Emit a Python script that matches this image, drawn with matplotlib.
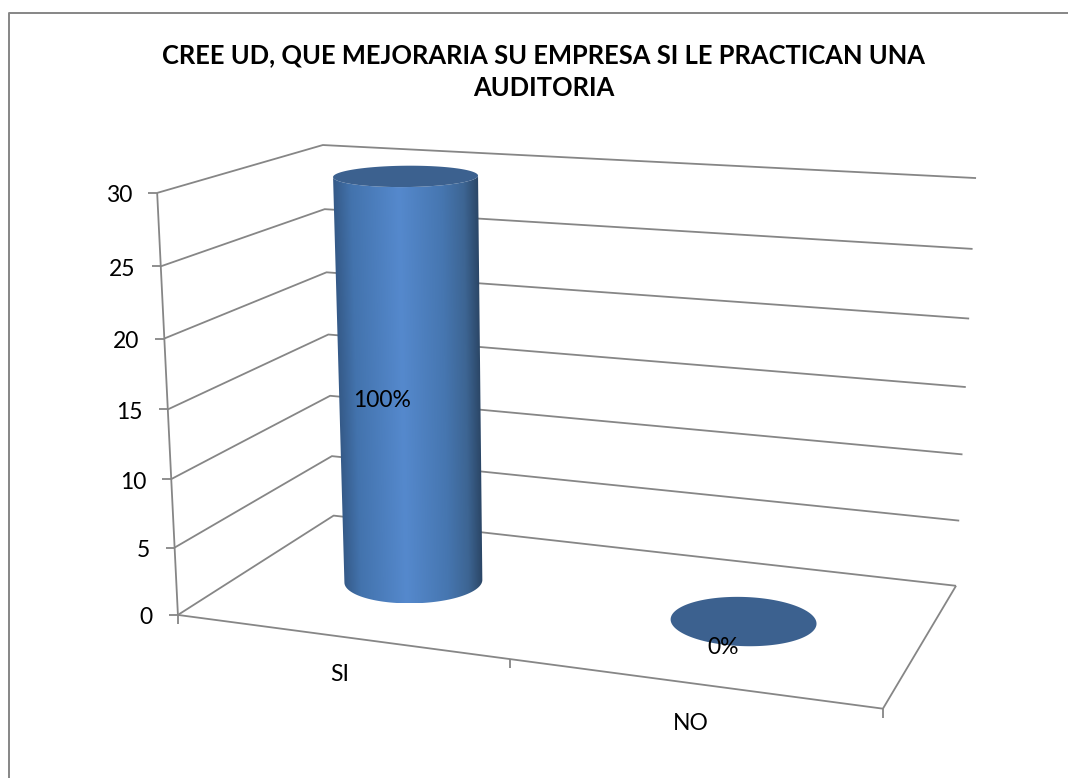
import numpy as np
import matplotlib
matplotlib.use("Agg")
import matplotlib.pyplot as plt
from matplotlib.patches import Polygon
from matplotlib.colors import LinearSegmentedColormap

# --- data ---
title_lines = ["CREE UD, QUE MEJORARIA SU EMPRESA SI LE PRACTICAN UNA", "AUDITORIA"]
categories = ["SI", "NO"]
values = [30, 0]
data_labels = ["100%", "0%"]
y_ticks = [0, 5, 10, 15, 20, 25, 30]

# --- style / layout ---
W, H = 1068, 778
LINE = "#868686"
LW = 1.3
TOP_COL = "#3c618f"
FONT = "Lato"
body_cmap = LinearSegmentedColormap.from_list(
    "cyl", [(0, "#355a88"), (0.12, "#4373ad"), (0.45, "#5589cd"),
            (0.75, "#4676b0"), (0.9, "#3d6593"), (1, "#2b4666")])
RU, RD = 0.202, 0.20
label_off = [(-28, 17), (-20, 27)]
cat_off = [38, 40]

# Camera fitted to plot-box corners: (u, value, depth) -> pixel
calib = [((0, 0, 0), (178, 615)), ((2, 0, 0), (883, 708.5)),
         ((0, 0, 1), (333.5, 515.5)), ((2, 0, 1), (956, 586)),
         ((0, 30, 0), (157, 193)), ((0, 30, 1), (323, 145)),
         ((2, 30, 1), (976, 178))]
A = []
for (u, v, d), (px, py) in calib:
    X = [u, v / 30, d, 1]
    px, py = px / 1000, py / 1000
    A.append(X + [0, 0, 0, 0] + [-px * c for c in X])
    A.append([0, 0, 0, 0] + X + [-py * c for c in X])
P = np.linalg.svd(np.array(A))[2][-1].reshape(3, 4)


def proj(u, v, d):
    u, v, d = np.broadcast_arrays(np.asarray(u, float), np.asarray(v, float), np.asarray(d, float))
    X = np.stack([u, v / 30, d, np.ones_like(u)])
    q = P @ X.reshape(4, -1)
    return (q[0] / q[2] * 1000).reshape(u.shape), (q[1] / q[2] * 1000).reshape(u.shape)


def front_arc(c, v):
    """Front half of a projected circle, from its leftmost to its rightmost screen point."""
    th = np.linspace(np.pi - 0.9, 2 * np.pi + 0.9, 401)
    x, y = proj(c + RU * np.cos(th), v, 0.5 + RD * np.sin(th))
    a, b = np.argmin(x), np.argmax(x)
    return x[a:b + 1], y[a:b + 1]


fig = plt.figure(figsize=(W / 100, H / 100), dpi=100)
ax = fig.add_axes([0, 0, 1, 1])
ax.axis("off")


def line(xs, ys, lw=LW, z=1):
    ax.plot(xs, ys, color=LINE, lw=lw, solid_capstyle="butt", zorder=z)


# chart frame
line([9, 9, W + 2], [H + 2, 13, 13], lw=1.4)

# walls and gridlines
for v in y_ticks:
    xs, ys = proj([0, 0, 2], [v] * 3, [0, 1, 1])
    line(xs, ys)
    line([xs[0] - 9, xs[0]], [ys[0], ys[0]])
    ax.text(xs[0] - 25, ys[0] + 3, str(v), ha="right", va="center",
            fontsize=16.5, family=FONT, color="black")
xs, ys = proj([0, 0], [0, 30], [0, 0])
line(xs, ys)

# floor
xs, ys = proj([0, 2, 2], [0, 0, 0], [0, 0, 1])
line(xs, ys)
for u in range(len(categories) + 1):
    x0, y0 = proj(u, 0, 0)
    line([x0, x0], [y0, y0 + 9])

# cylinders
full = np.linspace(0, 2 * np.pi, 241)
for i, val in enumerate(values):
    c = i + 0.5
    if val > 0:
        bx, by = front_arc(c, 0)
        tx, ty = front_arc(c, val)
        xa, xb = min(bx.min(), tx.min()), max(bx.max(), tx.max())
        ya, yb = min(by.min(), ty.min()), max(by.max(), ty.max())
        GX, GY = np.meshgrid(np.linspace(xa, xb, 400), np.linspace(ya, yb, 300))
        f = (GY - ya) / (yb - ya)
        xl = tx.min() + f * (bx.min() - tx.min())
        xr = tx.max() + f * (bx.max() - tx.max())
        grad = np.clip((GX - xl) / (xr - xl), 0, 1)
        outline = np.column_stack([np.r_[bx, tx[::-1]], np.r_[by, ty[::-1]]])
        patch = Polygon(outline, closed=True, transform=ax.transData, fc="none", ec="none")
        ax.add_patch(patch)
        im = ax.imshow(grad, cmap=body_cmap, vmin=0, vmax=1, extent=[xa, xb, yb, ya],
                       origin="upper", aspect="auto", interpolation="bilinear", zorder=3)
        im.set_clip_path(patch)
    ex, ey = proj(c + RU * np.cos(full), val, 0.5 + RD * np.sin(full))
    ax.fill(ex, ey, color=TOP_COL, lw=0, zorder=4)
    lx, ly = proj(c, val / 2, 0.5)
    ax.text(lx + label_off[i][0], ly + label_off[i][1], data_labels[i], ha="center", va="center",
            fontsize=16.5, family=FONT, color="black", zorder=5)
    nx, ny = proj(c, 0, 0)
    ax.text(nx, ny + cat_off[i], categories[i], ha="center", va="center",
            fontsize=16.5, family=FONT, color="black")

# title
for ln, y in zip(title_lines, [55, 88]):
    ax.text(544, y, ln, ha="center", va="center", fontsize=18.4, fontweight="bold",
            family=FONT, color="black")

ax.set_xlim(0, W)
ax.set_ylim(H, 0)
fig.savefig("out.png", dpi=100, facecolor="white")
